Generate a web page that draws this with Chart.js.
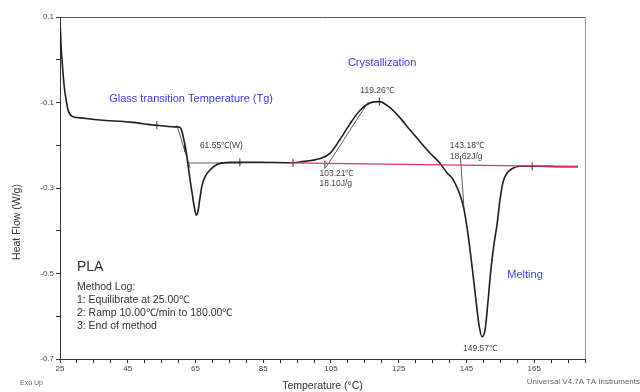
<!DOCTYPE html>
<html>
<head>
<meta charset="utf-8">
<script src="https://cdn.jsdelivr.net/npm/chart.js@4.4.1/dist/chart.umd.min.js"></script>
<style>
  html, body { margin: 0; padding: 0; background: #fff; }
  #wrap { width: 640px; height: 392px; position: relative; }
</style>
</head>
<body>
<div id="wrap"><canvas id="dsc-chart"></canvas></div>
<script>
// DSC scan of PLA, heat flow vs temperature
const temperature = [25.1, 25.3, 25.6, 26.2, 26.8, 27.4, 28.5, 30.9, 36.8, 45.7, 53.0, 59.0, 60.4,
    61.0, 61.6, 62.2, 62.8, 63.4, 64.0, 64.6, 65.2, 65.7, 66.3, 66.9, 67.8, 69.3, 71.6, 75.2,
    84.0, 92.9, 95.9, 101.8, 104.7, 107.7, 110.6, 113.6, 116.5, 119.3, 122.4, 125.4, 128.3,
    131.3, 134.2, 137.2, 139.3, 140.8, 142.0, 143.1, 144.3, 145.5,
    146.6, 147.8, 148.7, 149.6, 150.5, 151.4, 152.2, 153.1, 154.0, 154.9, 155.8, 157.0, 158.4,
    160.8, 166.7, 172.6, 177.9];
const heatFlow = [0.075, 0.035, -0.001, -0.059, -0.094, -0.118, -0.132, -0.136, -0.141, -0.146, -0.153, -0.157, -0.158,
    -0.168, -0.188, -0.212, -0.246, -0.281, -0.312, -0.342, -0.363, -0.356, -0.325, -0.295, -0.274, -0.258, -0.244, -0.240,
    -0.240, -0.241, -0.239, -0.231, -0.219, -0.186, -0.150, -0.118, -0.101, -0.098, -0.112, -0.136, -0.164,
    -0.192, -0.218, -0.242, -0.265, -0.277, -0.295, -0.316, -0.351, -0.410,
    -0.480, -0.562, -0.620, -0.648, -0.632, -0.562, -0.492, -0.433, -0.387, -0.328, -0.286, -0.265, -0.255,
    -0.249, -0.249, -0.250, -0.250];

// integration baseline (red)
const baselineT = [92.9, 177.9];
const baselineH = [-0.241, -0.250];

// analysis tangent segments
const tangentT = [[59.5, 63.4], [62.5, 78.7], [103.5, 116.0], [143.2, 144.3]];
const tangentH = [[-0.153, -0.253], [-0.2415, -0.2415], [-0.252, -0.099], [-0.225, -0.350]];

// small limit markers on the curve
const markerT = [53.6, 61.8, 78.1, 93.8, 103.2, 119.3, 164.4];
const markerH = [-0.153, -0.206, -0.240, -0.241, -0.245, -0.098, -0.249];

// tick labels
const xTickLabels = [25, 45, 65, 85, 105, 125, 145, 165];
const yTickLabels = [-0.7, -0.5, -0.3, -0.1, 0.1];

// text notes, placed in data units
const notes = [
    { text: 'Glass transition Temperature (Tg)', x: 63.7, y: -0.092, color: '#3f3ad8', size: 11, align: 'center' },
    { text: 'Crystallization', x: 120.1, y: -0.008, color: '#3f3ad8', size: 11, align: 'center' },
    { text: 'Melting', x: 162.3, y: -0.503, color: '#3f3ad8', size: 11, align: 'center' },
    { text: '61.55\u2103(W)', x: 66.3, y: -0.202, color: '#444', size: 8.5, align: 'left' },
    { text: '119.26\u2103', x: 118.6, y: -0.073, color: '#444', size: 8.5, align: 'center' },
    { text: '103.21\u2103', x: 101.6, y: -0.267, color: '#444', size: 8.5, align: 'left' },
    { text: '18.10J/g', x: 101.6, y: -0.290, color: '#444', size: 8.5, align: 'left' },
    { text: '143.18\u2103', x: 140.1, y: -0.202, color: '#444', size: 8.5, align: 'left' },
    { text: '18.62J/g', x: 140.1, y: -0.227, color: '#444', size: 8.5, align: 'left' },
    { text: '149.57\u2103', x: 149.0, y: -0.676, color: '#444', size: 8.5, align: 'center' },
    { text: 'PLA', x: 30.0, y: -0.485, color: '#333', size: 14, align: 'left' },
    { text: 'Method Log:', x: 30.0, y: -0.531, color: '#333', size: 10.5, align: 'left' },
    { text: '1: Equilibrate at 25.00\u2103', x: 30.0, y: -0.562, color: '#333', size: 10.5, align: 'left' },
    { text: '2: Ramp 10.00\u2103/min to 180.00\u2103', x: 30.0, y: -0.592, color: '#333', size: 10.5, align: 'left' },
    { text: '3: End of method', x: 30.0, y: -0.623, color: '#333', size: 10.5, align: 'left' },
];

const FONT = '"Liberation Sans", Arial, sans-serif';

function toPoints(xs, ys) {
    return xs.map((x, i) => ({ x: x, y: ys[i] }));
}

const tangentSets = tangentT.map((xs, i) => ({
    data: toPoints(xs, tangentH[i]),
    showLine: true,
    borderColor: '#333',
    borderWidth: 0.8,
    pointRadius: 0,
}));

// frame, notes and free-standing captions
const decorPlugin = {
    id: 'decor',
    afterDraw(chart) {
        const { ctx, chartArea: a, scales } = chart;
        ctx.save();
        ctx.lineWidth = 1;
        ctx.strokeStyle = '#555';
        ctx.beginPath();
        ctx.moveTo(a.left, a.top + 0.5);
        ctx.lineTo(a.right, a.top + 0.5);
        ctx.stroke();
        ctx.strokeStyle = '#999';
        ctx.beginPath();
        ctx.moveTo(a.right + 0.5, a.top);
        ctx.lineTo(a.right + 0.5, a.bottom);
        ctx.stroke();

        ctx.textBaseline = 'middle';
        notes.forEach(n => {
            ctx.font = n.size + 'px ' + FONT;
            ctx.fillStyle = n.color;
            ctx.textAlign = n.align;
            ctx.fillText(n.text, scales.x.getPixelForValue(n.x), scales.y.getPixelForValue(n.y));
        });

        // y axis title
        ctx.save();
        ctx.translate(17, 222);
        ctx.rotate(-Math.PI / 2);
        ctx.textAlign = 'center';
        ctx.font = '10.5px ' + FONT;
        ctx.fillStyle = '#333';
        ctx.fillText('Heat Flow (W/g)', 0, 0);
        ctx.restore();

        ctx.font = '7px ' + FONT;
        ctx.fillStyle = '#666';
        ctx.textAlign = 'left';
        ctx.fillText('Exo Up', 20, 383);
        ctx.font = '8px ' + FONT;
        ctx.textAlign = 'right';
        ctx.fillText('Universal V4.7A TA Instruments', 640, 382);
        ctx.restore();
    }
};

const ctx = document.getElementById('dsc-chart').getContext('2d');
new Chart(ctx, {
    type: 'scatter',
    data: {
        datasets: [
            {
                data: toPoints(baselineT, baselineH),
                showLine: true,
                borderColor: '#e3306a',
                borderWidth: 1.2,
                pointRadius: 0,
            },
            ...tangentSets,
            {
                data: toPoints(temperature, heatFlow),
                showLine: true,
                borderColor: '#1e1e1e',
                borderWidth: 1.6,
                pointRadius: 0,
                cubicInterpolationMode: 'monotone',
            },
            {
                data: toPoints(markerT, markerH),
                showLine: false,
                pointStyle: 'line',
                rotation: 90,
                pointRadius: 4,
                borderColor: '#333',
                borderWidth: 1,
            },
        ]
    },
    options: {
        responsive: true,
        maintainAspectRatio: false,
        animation: false,
        layout: { padding: { left: 0, right: 55, top: 17, bottom: 0 } },
        plugins: {
            legend: { display: false },
            tooltip: { enabled: false },
        },
        scales: {
            x: {
                type: 'linear',
                min: 25,
                max: 180,
                afterFit: (s) => { s.height = 33; },
                afterBuildTicks: (s) => {
                    const t = [];
                    for (let v = 25; v <= 180; v += 5) t.push({ value: v });
                    s.ticks = t;
                },
                ticks: {
                    autoSkip: false,
                    maxRotation: 0,
                    padding: 1,
                    color: '#444',
                    font: { family: FONT, size: 8 },
                    callback: (v) => xTickLabels.includes(v) ? String(v) : '',
                },
                grid: { drawOnChartArea: false, drawTicks: true, tickLength: 4, color: '#333' },
                border: { color: '#333', width: 1 },
                title: {
                    display: true,
                    text: 'Temperature (\u00b0C)',
                    color: '#333',
                    padding: { top: 1, bottom: 0 },
                    font: { family: FONT, size: 10.5 },
                },
            },
            y: {
                type: 'linear',
                min: -0.7,
                max: 0.1,
                afterFit: (s) => { s.width = 60; },
                afterBuildTicks: (s) => {
                    const t = [];
                    for (let i = -7; i <= 1; i++) t.push({ value: i / 10 });
                    s.ticks = t;
                },
                ticks: {
                    autoSkip: false,
                    padding: 2,
                    color: '#444',
                    font: { family: FONT, size: 8 },
                    callback: (v) => {
                        const r = Math.round(v * 10) / 10;
                        return yTickLabels.includes(r) ? r.toFixed(1) : '';
                    },
                },
                grid: { drawOnChartArea: false, drawTicks: true, tickLength: 4, color: '#333' },
                border: { color: '#333', width: 1 },
            },
        },
    },
    plugins: [decorPlugin],
});
</script>
</body>
</html>
